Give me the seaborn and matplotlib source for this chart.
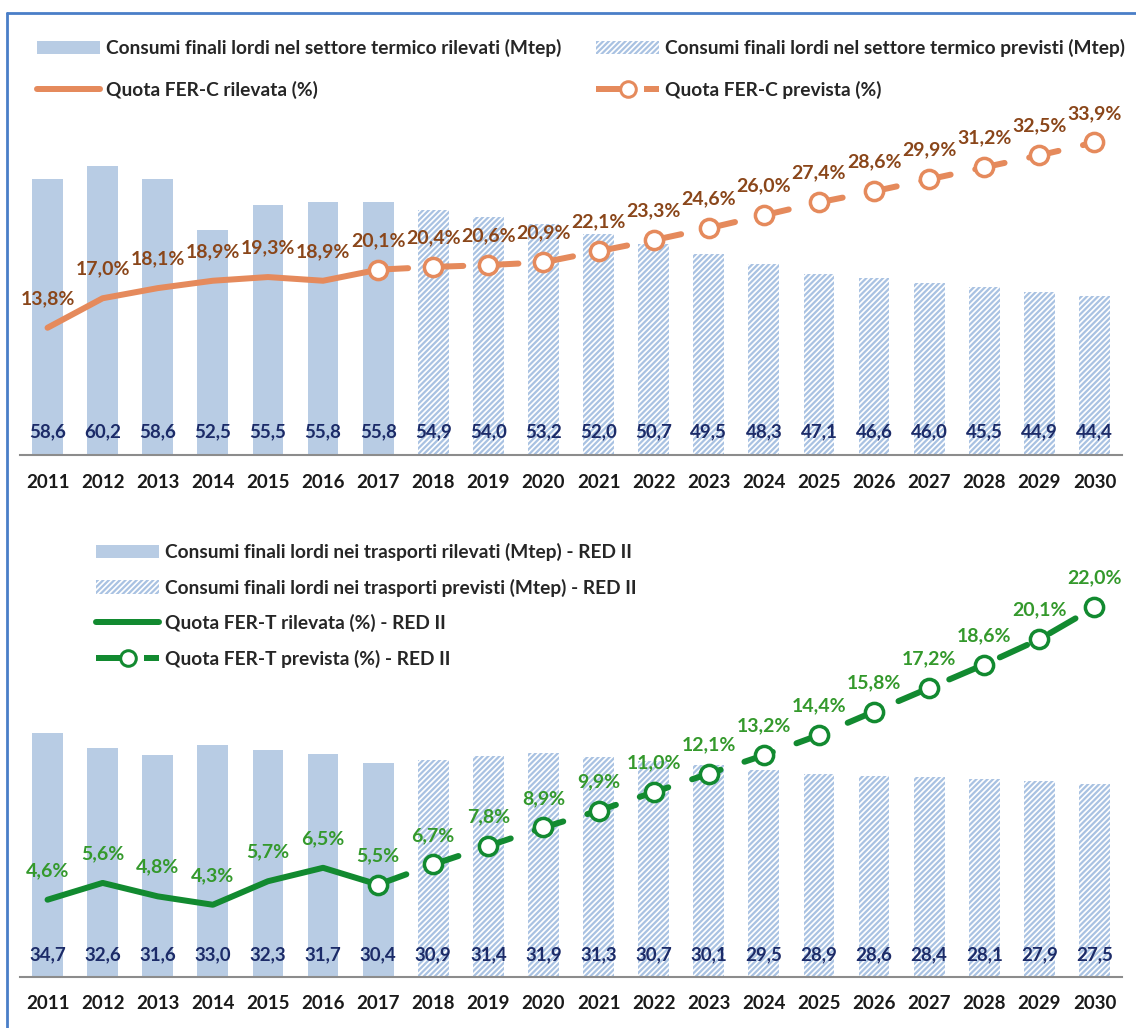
import numpy as np
import pandas as pd
import seaborn as sns
import matplotlib.pyplot as plt
import matplotlib.transforms as mtransforms
from matplotlib.patches import Patch
from matplotlib.lines import Line2D

# categories
anni = [str(a) for a in range(2011, 2031)]

# settore termico
cons_term_ril = [58.6, 60.2, 58.6, 52.5, 55.5, 55.8, 55.8]
cons_term_prev = [54.9, 54.0, 53.2, 52.0, 50.7, 49.5, 48.3, 47.1, 46.6, 46.0, 45.5, 44.9, 44.4]
fer_c_ril = [13.8, 17.0, 18.1, 18.9, 19.3, 18.9, 20.1]
fer_c_prev = [20.4, 20.6, 20.9, 22.1, 23.3, 24.6, 26.0, 27.4, 28.6, 29.9, 31.2, 32.5, 33.9]

# trasporti
cons_tr_ril = [34.7, 32.6, 31.6, 33.0, 32.3, 31.7, 30.4]
cons_tr_prev = [30.9, 31.4, 31.9, 31.3, 30.7, 30.1, 29.5, 28.9, 28.6, 28.4, 28.1, 27.9, 27.5]
fer_t_ril = [4.6, 5.6, 4.8, 4.3, 5.7, 6.5, 5.5]
fer_t_prev = [6.7, 7.8, 8.9, 9.9, 11.0, 12.1, 13.2, 14.4, 15.8, 17.2, 18.6, 20.1, 22.0]

BAR = '#B8CCE4'
HATCH_COL = '#A9C2E2'
NAVY = '#1C2B68'
AXIS_COL = '#8C8C8C'
ORANGE = '#E58A5C'
ORANGE_TXT = '#8A461A'
GREEN = '#128A30'
GREEN_TXT = '#34992C'
BORDER = '#4A7EC8'

W, H = 1136, 1028
PX = 0.72  # points per pixel at 100 dpi
LW = 6 * PX
DASH = (0, (5, 4.2))

sns.set_style('white')
plt.rcParams['font.family'] = ['Lato', 'DejaVu Sans']
plt.rcParams['hatch.linewidth'] = 1.6
plt.rcParams['hatch.color'] = HATCH_COL


def fmt(v):
    return f'{v:.1f}'.replace('.', ',')


def panel(ax, cons_ril, cons_prev, quota_ril, quota_prev, line_col, lab_col,
          bar_lim, quota_lim, val_frac, lab_pad):
    df = pd.DataFrame({'anno': anni,
                       'valore': cons_ril + cons_prev,
                       'tipo': ['ril'] * len(cons_ril) + ['prev'] * len(cons_prev)})
    sns.barplot(data=df, x='anno', y='valore', hue='tipo', order=anni,
                hue_order=['ril', 'prev'], palette={'ril': BAR, 'prev': 'white'},
                dodge=False, width=0.56, saturation=1, errorbar=None,
                legend=False, linewidth=0, ax=ax)
    for bar in ax.containers[1]:
        bar.set_hatch('//////')
        bar.set_edgecolor(HATCH_COL)
        bar.set_linewidth(0)
    ax.set_xlim(-0.5, len(anni) - 0.5)
    ax.set_ylim(*bar_lim)
    ax.set(xlabel='', ylabel='')
    ax.set_yticks([])
    sns.despine(ax=ax, left=True)
    ax.spines['bottom'].set_color(AXIS_COL)
    ax.spines['bottom'].set_linewidth(1.5)
    ax.set_xticks(range(len(anni)), anni)
    ax.set_xticks(np.arange(-0.5, len(anni), 1), minor=True)
    ax.tick_params(axis='x', which='major', length=0, pad=lab_pad,
                   labelsize=13.5, labelcolor='#1A1A1A')
    ax.tick_params(axis='x', which='minor', length=5, width=1.5,
                   color=AXIS_COL, direction='out')
    for t in ax.get_xticklabels():
        t.set_fontweight('bold')

    trans = mtransforms.blended_transform_factory(ax.transData, ax.transAxes)
    for i, v in enumerate(df['valore']):
        ax.text(i, val_frac, fmt(v), transform=trans, ha='center', va='center',
                fontsize=13.5, fontweight='bold', color=NAVY)

    ax2 = ax.twinx()
    n = len(quota_ril)
    sns.lineplot(x=list(range(n)), y=quota_ril, ax=ax2, color=line_col, lw=LW,
                 solid_capstyle='round', solid_joinstyle='round')
    sns.lineplot(x=list(range(n - 1, len(anni))), y=[quota_ril[-1]] + quota_prev,
                 ax=ax2, color=line_col, lw=LW, linestyle=DASH,
                 dash_capstyle='round', marker='o', markersize=13 * PX * 1.4,
                 markerfacecolor='white', markeredgecolor=line_col,
                 markeredgewidth=3.5 * PX)
    for i, v in enumerate(quota_ril + quota_prev):
        ax2.annotate(fmt(v) + '%', (i, v), xytext=(0, 21), textcoords='offset points',
                     ha='center', va='center', fontsize=14, fontweight='bold',
                     color=lab_col)
    ax2.set_ylim(*quota_lim)
    ax2.set_axis_off()


fig = plt.figure(figsize=(W / 100, H / 100), dpi=100)

ax_top = fig.add_axes([20 / W, (H - 455) / H, 1102 / W, 355 / H])
panel(ax_top, cons_term_ril, cons_term_prev, fer_c_ril, fer_c_prev, ORANGE, ORANGE_TXT,
      (25, 25 + 355 / 8.2), (0, 355 / 9.22), 0.065, 14)

ax_bot = fig.add_axes([20 / W, (H - 977) / H, 1102 / W, 397 / H])
panel(ax_bot, cons_tr_ril, cons_tr_prev, fer_t_ril, fer_t_prev, GREEN, GREEN_TXT,
      (0, 397 / 7.03), (0, 397 / 16.8), 0.055, 13)


def legend_handles(line_col):
    bar_r = Patch(facecolor=BAR, edgecolor='none')
    bar_p = Patch(facecolor='white', edgecolor=HATCH_COL, hatch='//////', linewidth=0)
    line_r = Line2D([], [], color=line_col, lw=LW, solid_capstyle='round')
    line_p = Line2D([], [], color=line_col, lw=LW, linestyle=(0, (5, 3)),
                    marker='o', markersize=13 * PX * 1.2, markerfacecolor='white',
                    markeredgecolor=line_col, markeredgewidth=3 * PX)
    return bar_r, bar_p, line_r, line_p


leg_kw = dict(loc='upper left', frameon=False, borderpad=0, borderaxespad=0,
              handlelength=3.3, handletextpad=0.3,
              prop={'size': 13.8, 'weight': 'bold'},
              bbox_transform=fig.transFigure)

br, bp, lr, lp = legend_handles(ORANGE)
fig.legend([br, lr], ['Consumi finali lordi nel settore termico rilevati (Mtep)',
                      'Quota FER-C rilevata (%)'],
           bbox_to_anchor=(37 / W, 1 - 39 / H), labelspacing=1.23, **leg_kw)
fig.legend([bp, lp], ['Consumi finali lordi nel settore termico previsti (Mtep)',
                      'Quota FER-C prevista (%)'],
           bbox_to_anchor=(596 / W, 1 - 39 / H), labelspacing=1.23, **leg_kw)

br, bp, lr, lp = legend_handles(GREEN)
fig.legend([br, bp, lr, lp],
           ['Consumi finali lordi nei trasporti rilevati (Mtep) - RED II',
            'Consumi finali lordi nei trasporti previsti (Mtep) - RED II',
            'Quota FER-T rilevata (%) - RED II',
            'Quota FER-T prevista (%) - RED II'],
           bbox_to_anchor=(96 / W, 1 - 543 / H), labelspacing=0.91, **leg_kw)

# blue frame on top and left edges
fig.add_artist(Line2D([7 / W, 1], [1 - 13 / H, 1 - 13 / H], transform=fig.transFigure,
                      color=BORDER, lw=2))
fig.add_artist(Line2D([7 / W, 7 / W], [0, 1 - 13 / H], transform=fig.transFigure,
                      color=BORDER, lw=2))

fig.savefig('out.png', dpi=100)
